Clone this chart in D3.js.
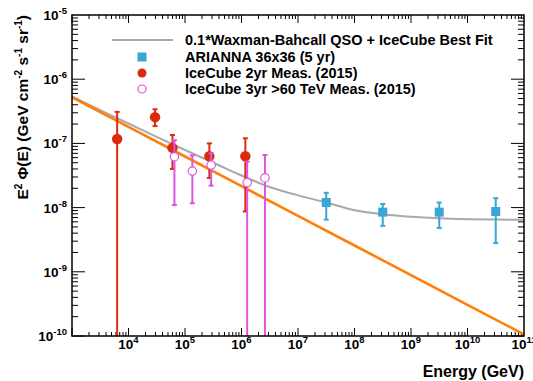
<!DOCTYPE html>
<html><head><meta charset="utf-8">
<script src="https://cdn.jsdelivr.net/npm/d3@7"></script>
<style>
body{margin:0;background:#fff;}
text{font-family:"Liberation Sans",Arial,Helvetica,sans-serif;font-weight:bold;fill:#000;}
</style></head>
<body><svg id="c" width="533" height="381"></svg>
<script>
// ---- data ----
const curveE = [1e3,3.16e3,1e4,3.16e4,1e5,3.16e5,1e6,3.16e6,1e7,3.16e7,1e8,3.16e8,1e9,3.16e9,1e10,3.16e10,1e11];
const wbFit  = [5.4e-7,3.3e-7,2.04e-7,1.26e-7,7.9e-8,5.0e-8,3.16e-8,2.09e-8,1.55e-8,1.2e-8,9.1e-9,7.9e-9,7.2e-9,6.8e-9,6.6e-9,6.5e-9,6.45e-9];
const fitE   = [1e3,1e4,1e5,1e6,1e7,1e8,1e9,1e10,1e11];
const icFit  = [5.25e-7,1.81e-7,6.25e-8,2.16e-8,7.45e-9,2.57e-9,8.87e-10,3.06e-10,1.057e-10];

const ariE  = [3.16e7,3.16e8,3.16e9,3.16e10];
const ariY  = [1.2e-8,8.5e-9,8.5e-9,8.7e-9];
const ariHi = [1.7e-8,1.14e-8,1.2e-8,1.4e-8];
const ariLo = [6.5e-9,5.2e-9,4.8e-9,2.8e-9];

const ic2E  = [6.3e3,2.95e4,6.0e4,2.7e5,1.17e6];
const ic2Y  = [1.17e-7,2.56e-7,8.5e-8,6.3e-8,6.3e-8];
const ic2Hi = [3.1e-7,3.4e-7,1.35e-7,1.0e-7,1.2e-7];
const ic2Lo = [0,1.86e-7,4.0e-8,2.9e-8,8.7e-9];   // 0 = extends below axis

const ic3E  = [6.5e4,1.35e5,2.9e5,1.26e6,2.6e6];
const ic3Y  = [6.2e-8,3.7e-8,4.6e-8,2.45e-8,2.9e-8];
const ic3Hi = [1.12e-7,6.5e-8,7.0e-8,5.2e-8,6.6e-8];
const ic3Lo = [1.1e-8,1.17e-8,2.2e-8,0,0];

const xTickExp = [4,5,6,7,8,9,10,11];
const yTickExp = [-10,-9,-8,-7,-6,-5];
const legendLabels = ["0.1*Waxman-Bahcall QSO + IceCube Best Fit","ARIANNA 36x36 (5 yr)","IceCube 2yr Meas. (2015)","IceCube 3yr >60 TeV Meas. (2015)"];

// ---- layout ----
const L=72,R=524,T=15,B=336;
const x=d3.scaleLog().domain([1e3,1e11]).range([L,R]);
const y=d3.scaleLog().domain([1e-10,1e-5]).range([B,T]);
const C={gray:"#a9a9a9",orange:"#ff7f0a",blue:"#3aa6d6",red:"#dc2a0c",mag:"#dd55dd"};
const svg=d3.select("#c");

svg.append("clipPath").attr("id","clip").append("rect").attr("x",L).attr("y",T).attr("width",R-L).attr("height",B-T);

// ticks
const tk=svg.append("g").attr("stroke","#000").attr("stroke-width",1);
for(let e=3;e<=10;e++){
  for(let k=1;k<=9;k++){
    const v=k*Math.pow(10,e); if(v>1e11) break;
    const px=x(v), len=(k===1)?8:4;
    tk.append("line").attr("x1",px).attr("x2",px).attr("y1",B).attr("y2",B-len);
    tk.append("line").attr("x1",px).attr("x2",px).attr("y1",T).attr("y2",T+len);
  }
}
for(let e=-10;e<=-6;e++){
  for(let k=1;k<=9;k++){
    const v=k*Math.pow(10,e);
    const py=y(v), len=(k===1)?13:6;
    tk.append("line").attr("y1",py).attr("y2",py).attr("x1",L).attr("x2",L+len);
    tk.append("line").attr("y1",py).attr("y2",py).attr("x1",R).attr("x2",R-len);
  }
}

// tick labels
xTickExp.forEach(e=>{
  const t=svg.append("text").attr("x",x(Math.pow(10,e))).attr("y",349).attr("text-anchor","middle").attr("font-size",13.5);
  t.append("tspan").text("10");
  t.append("tspan").attr("dy",-6).attr("font-size",9.5).text(e);
});
yTickExp.forEach(e=>{
  const t=svg.append("text").attr("x",67).attr("y",y(Math.pow(10,e))+5).attr("text-anchor","end").attr("font-size",13.5);
  t.append("tspan").text("10");
  t.append("tspan").attr("dy",-6).attr("font-size",9.5).text("-"+Math.abs(e));
});

// axis titles
svg.append("text").attr("x",R).attr("y",377).attr("text-anchor","end").attr("font-size",16).text("Energy (GeV)");
const yl=svg.append("text").attr("transform","translate(28,15) rotate(-90)").attr("text-anchor","end").attr("font-size",15.5);
[["E",0],["2",1],[" \u03A6(E) (GeV cm",0],["-2",1],[" s",0],["-1",1],[" sr",0],["-1",1],[")",0]].forEach(([s,sup],i,arr)=>{
  const ts=yl.append("tspan").text(s);
  if(sup){ts.attr("font-size",10).attr("dy",-6);} else if(i>0 && arr[i-1][1]){ts.attr("dy",6);}
});

// plot content
const g=svg.append("g").attr("clip-path","url(#clip)");
const line=d3.line().x(d=>x(d[0])).y(d=>y(d[1])).curve(d3.curveMonotoneX);
g.append("path").datum(curveE.map((e,i)=>[e,wbFit[i]])).attr("d",line).attr("fill","none").attr("stroke",C.gray).attr("stroke-width",2);
g.append("path").datum(fitE.map((e,i)=>[e,icFit[i]])).attr("d",d3.line().x(d=>x(d[0])).y(d=>y(d[1]))).attr("fill","none").attr("stroke",C.orange).attr("stroke-width",2.6);

function errbars(E,Y,Hi,Lo,col){
  E.forEach((e,i)=>{
    const px=x(e), yt=y(Hi[i]), yb=Lo[i]>0?y(Lo[i]):B+5;
    g.append("line").attr("x1",px).attr("x2",px).attr("y1",yt).attr("y2",yb).attr("stroke",col).attr("stroke-width",2);
    g.append("line").attr("x1",px-2.5).attr("x2",px+2.5).attr("y1",yt).attr("y2",yt).attr("stroke",col).attr("stroke-width",2);
    if(Lo[i]>0) g.append("line").attr("x1",px-2.5).attr("x2",px+2.5).attr("y1",yb).attr("y2",yb).attr("stroke",col).attr("stroke-width",2);
  });
}
errbars(ic2E,ic2Y,ic2Hi,ic2Lo,C.red);
ic2E.forEach((e,i)=>g.append("circle").attr("cx",x(e)).attr("cy",y(ic2Y[i])).attr("r",5.2).attr("fill",C.red));
errbars(ic3E,ic3Y,ic3Hi,ic3Lo,C.mag);
ic3E.forEach((e,i)=>g.append("circle").attr("cx",x(e)).attr("cy",y(ic3Y[i])).attr("r",4.2).attr("fill","#fff").attr("stroke",C.mag).attr("stroke-width",1.2));
errbars(ariE,ariY,ariHi,ariLo,C.blue);
ariE.forEach((e,i)=>g.append("rect").attr("x",x(e)-4.5).attr("y",y(ariY[i])-4.5).attr("width",9).attr("height",9).attr("fill",C.blue));

// frame
svg.append("rect").attr("x",L).attr("y",T).attr("width",R-L).attr("height",B-T).attr("fill","none").attr("stroke","#000").attr("stroke-width",1.5);

// legend
const ly=[40,57,73,89], lx=142;
svg.append("line").attr("x1",112).attr("x2",173).attr("y1",ly[0]).attr("y2",ly[0]).attr("stroke",C.gray).attr("stroke-width",2);
svg.append("rect").attr("x",lx-4.5).attr("y",ly[1]-4.5).attr("width",9).attr("height",9).attr("fill",C.blue);
svg.append("circle").attr("cx",lx).attr("cy",ly[2]).attr("r",4.5).attr("fill",C.red);
svg.append("circle").attr("cx",lx).attr("cy",ly[3]).attr("r",4).attr("fill","#fff").attr("stroke",C.mag).attr("stroke-width",1.2);
legendLabels.forEach((s,i)=>svg.append("text").attr("x",185).attr("y",ly[i]+5).attr("font-size",14.5).text(s));
</script></body></html>
